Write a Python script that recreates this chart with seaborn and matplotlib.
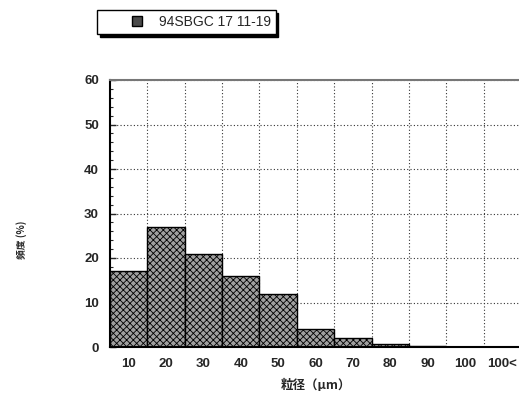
import matplotlib
matplotlib.use("Agg")
import matplotlib.pyplot as plt
import seaborn as sns
import pandas as pd
from matplotlib.lines import Line2D
from matplotlib.ticker import MultipleLocator

categories = ["10", "20", "30", "40", "50", "60", "70", "80", "90", "100", "100<"]
values = [17, 27, 21, 16, 12, 4, 2, 0.6, 0.3, 0, 0]
series_name = "94SBGC 17 11-19"
y_ticks = [0, 10, 20, 30, 40, 50, 60]

sns.set_theme(style="white")
plt.rcParams['font.family'] = ['Liberation Sans', 'Noto Sans CJK JP', 'DejaVu Sans']
plt.rcParams['hatch.color'] = '#2a2a2a'
plt.rcParams['hatch.linewidth'] = 0.6

df = pd.DataFrame({"粒径": categories, "頻度": values})

fig = plt.figure(figsize=(5.19, 4.00), dpi=100)
ax = fig.add_axes([110/519, 53/400, 411/519, 267/400])

sns.barplot(data=df, x="粒径", y="頻度", color="#a0a0a0", saturation=1,
            width=1.0, edgecolor="black", linewidth=1.0, ax=ax)
for p in ax.patches:
    p.set_hatch("xxxxx")

ax.set_xlim(-0.5, 10.5)
ax.set_ylim(0, 60)
ax.set_yticks(y_ticks)
ax.yaxis.set_minor_locator(MultipleLocator(2))
ax.set_xticks(range(len(categories)))
ax.set_xticklabels(categories)
ax.set_xticks([i + 0.5 for i in range(len(categories) - 1)], minor=True)

ax.grid(False)
ax.yaxis.grid(True, which="major", linestyle=(0, (1, 2)), color="#333333", linewidth=0.8)
ax.xaxis.grid(True, which="minor", linestyle=(0, (1, 2)), color="#333333", linewidth=0.8)
ax.set_axisbelow(True)

ax.spines["right"].set_visible(False)
ax.spines["top"].set_color("#777777")
ax.spines["top"].set_linewidth(1.5)
ax.spines["left"].set_color("black")
ax.spines["left"].set_linewidth(1.5)
ax.spines["bottom"].set_color("black")
ax.spines["bottom"].set_linewidth(1.5)

ax.tick_params(axis="y", which="major", direction="in", length=4, width=1, pad=8,
               labelsize=9.5, left=True)
ax.tick_params(axis="y", which="minor", direction="in", length=2, width=0.8, left=True)
ax.tick_params(axis="x", which="both", length=0, pad=8, labelsize=9.5)
for lab in ax.get_xticklabels() + ax.get_yticklabels():
    lab.set_fontweight("bold")

ax.set_xlabel("粒径（μm）", fontsize=9, fontweight="bold",
              family=['Noto Sans CJK JP', 'DejaVu Sans'], labelpad=6)
ax.set_ylabel("")
fig.text(22/519, 1 - 240/400, "頻度 (%)", rotation=90, fontsize=7, fontweight="bold",
         ha="center", va="center", family=['Noto Sans CJK JP', 'DejaVu Sans'])

handle = Line2D([], [], linestyle="none", marker="s", markersize=7,
                markerfacecolor="#4a4a4a", markeredgecolor="black")
leg = fig.legend(handles=[handle], labels=[series_name], loc="upper left",
                 bbox_to_anchor=(97/519, 1 - 10/400), frameon=True, fancybox=False,
                 shadow={'color': 'black', 'alpha': 1}, fontsize=10, borderpad=0.35,
                 handlelength=5.0, handletextpad=-0.9, borderaxespad=0)
leg.get_frame().set_edgecolor("black")
leg.get_frame().set_linewidth(1.0)

fig.savefig("out.png", dpi=100)
